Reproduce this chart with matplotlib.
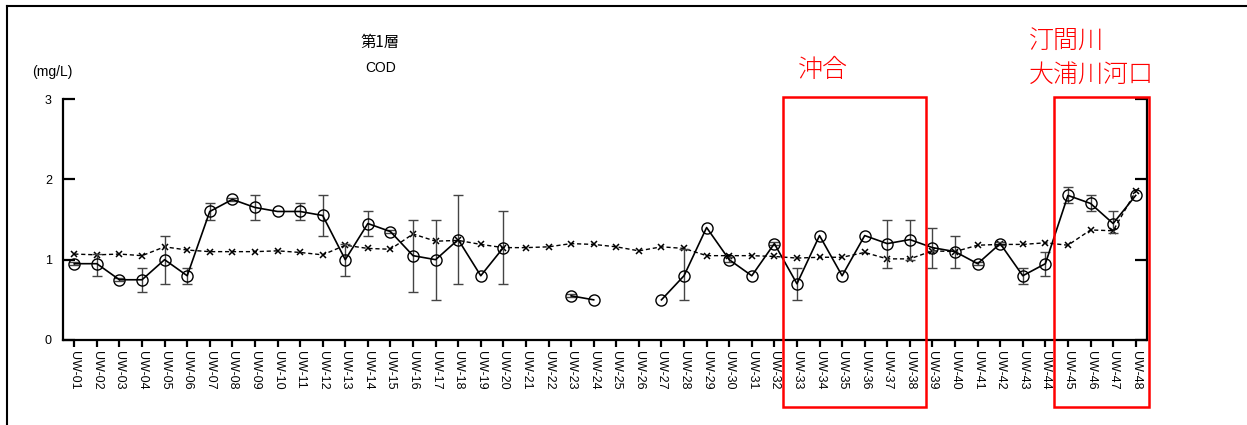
import numpy as np
import matplotlib
matplotlib.use("Agg")
from matplotlib import pyplot as plt
from matplotlib.patches import Rectangle
from matplotlib.lines import Line2D

plt.rcParams['font.family'] = ['Liberation Sans', 'Noto Sans CJK JP', 'DejaVu Sans']

nan = np.nan

# 地点名
stations = ["UW-%02d" % i for i in range(1, 49)]

# 今回の値 (○, 実線)
cod = [0.95, 0.95, 0.75, 0.75, 1.0, 0.8, 1.6, 1.75, 1.65, 1.6, 1.6, 1.55,
       1.0, 1.45, 1.35, 1.05, 1.0, 1.25, 0.8, 1.15, nan, nan, 0.55, 0.5,
       nan, nan, 0.5, 0.8, 1.4, 1.0, 0.8, 1.2, 0.7, 1.3, 0.8, 1.3,
       1.2, 1.25, 1.15, 1.1, 0.95, 1.2, 0.8, 0.95, 1.8, 1.7, 1.45, 1.8]

# 最大・最小 (エラーバー)
cod_max = [0.97, 1.07, 0.77, 0.9, 1.3, 0.9, 1.7, 1.77, 1.8, nan, 1.7, 1.8,
           1.2, 1.6, 1.37, 1.5, 1.5, 1.8, nan, 1.6, nan, nan, 0.57, nan,
           nan, nan, nan, 1.13, nan, 1.03, nan, 1.22, 0.9, nan, nan, nan,
           1.5, 1.5, 1.4, 1.3, 0.97, 1.22, 0.9, 1.1, 1.9, 1.8, 1.6, nan]
cod_min = [0.93, 0.8, 0.73, 0.6, 0.7, 0.7, 1.5, 1.73, 1.5, nan, 1.5, 1.3,
           0.8, 1.3, 1.33, 0.6, 0.5, 0.7, nan, 0.7, nan, nan, 0.53, nan,
           nan, nan, nan, 0.5, nan, 0.97, nan, 1.18, 0.5, nan, nan, nan,
           0.9, 1.0, 0.9, 0.9, 0.93, 1.18, 0.7, 0.8, 1.7, 1.6, 1.33, nan]

# 平均値 (×, 破線)
cod_mean = [1.07, 1.06, 1.07, 1.05, 1.16, 1.12, 1.10, 1.10, 1.10, 1.11, 1.09, 1.06,
            1.18, 1.14, 1.13, 1.32, 1.23, 1.24, 1.19, 1.15, 1.15, 1.16, 1.20, 1.19,
            1.16, 1.11, 1.16, 1.14, 1.05, 1.05, 1.05, 1.04, 1.02, 1.03, 1.03, 1.09,
            1.01, 1.01, 1.11, 1.10, 1.18, 1.19, 1.19, 1.21, 1.18, 1.37, 1.36, 1.85]

yticks = [0, 1, 2, 3]

# 赤枠 (始点の地点番号, 終点の地点番号, ラベル)
groups = [(33, 38, "沖合"), (45, 48, "汀間川\n大浦川河口")]
label_shift = [0.65, -1.15]   # ラベルの左端 (枠の左端からのずれ)
label_y = [3.36, 3.51]

fig = plt.figure(figsize=(12.47, 4.25), dpi=100)
ax = fig.add_axes([0.0505, 0.2, 0.8693, 0.567])

x = np.arange(len(stations))
cod = np.array(cod)
lo = np.array(cod) - np.array(cod_min)
hi = np.array(cod_max) - np.array(cod)
has_err = ~np.isnan(lo)

ax.plot(x, cod_mean, ls=(0, (3, 2)), lw=1, color='black', marker='x',
        ms=5, mew=1.1, zorder=2)
ax.errorbar(x[has_err], cod[has_err], yerr=[lo[has_err], hi[has_err]],
            fmt='none', ecolor='#444444', elinewidth=1, capsize=3.5, capthick=1, zorder=3)
ax.plot(x, cod, ls='-', lw=1.2, color='black', marker='o', ms=8,
        mfc='none', mec='black', mew=1, zorder=4)

ax.set_xlim(-0.5, len(stations) - 0.5)
ax.set_ylim(0, 3)
ax.set_xticks(x)
ax.set_xticklabels(stations, rotation=270, fontsize=9)
ax.set_yticks(yticks)
ax.set_yticklabels([str(t) for t in yticks], fontsize=9)

ax.spines['top'].set_visible(False)
for s in ['left', 'bottom', 'right']:
    ax.spines[s].set_linewidth(1.6)
ax.tick_params(axis='y', direction='in', length=8.5, width=1.6, pad=8,
               right=True, labelright=False)
ax.tick_params(axis='x', direction='out', length=5, width=1.6, pad=3)

fig.text(0.305, 0.9, "第1層", fontsize=11, ha='center', va='center',
         family=['Noto Sans CJK JP', 'DejaVu Sans'])
fig.text(0.305, 0.84, "COD", fontsize=10, ha='center', va='center')
fig.text(0.042, 0.83, "(mg/L)", fontsize=10, ha='center', va='center')

# 赤枠とラベル
for (first, last, label), dx, ly in zip(groups, label_shift, label_y):
    x0 = first - 1 - 0.6
    x1 = min(last - 1 + 0.7, len(stations) - 0.43)
    ax.add_patch(Rectangle((x0, -0.83), x1 - x0, 3.85, fill=False,
                           edgecolor='red', lw=1.8, clip_on=False, zorder=5))
    ax.text(x0 + dx, ly, label, color='red', fontsize=18, ha='left', va='center',
            linespacing=1.3, fontweight='light',
            family=['Noto Sans CJK JP', 'DejaVu Sans'])

# 外枠 (上・左)
fig.add_artist(Line2D([0.0056, 1.0], [0.986, 0.986], color='black', lw=1.5))
fig.add_artist(Line2D([0.0056, 0.0056], [0.0, 0.986], color='black', lw=1.5))

fig.savefig("out.png", dpi=100)
